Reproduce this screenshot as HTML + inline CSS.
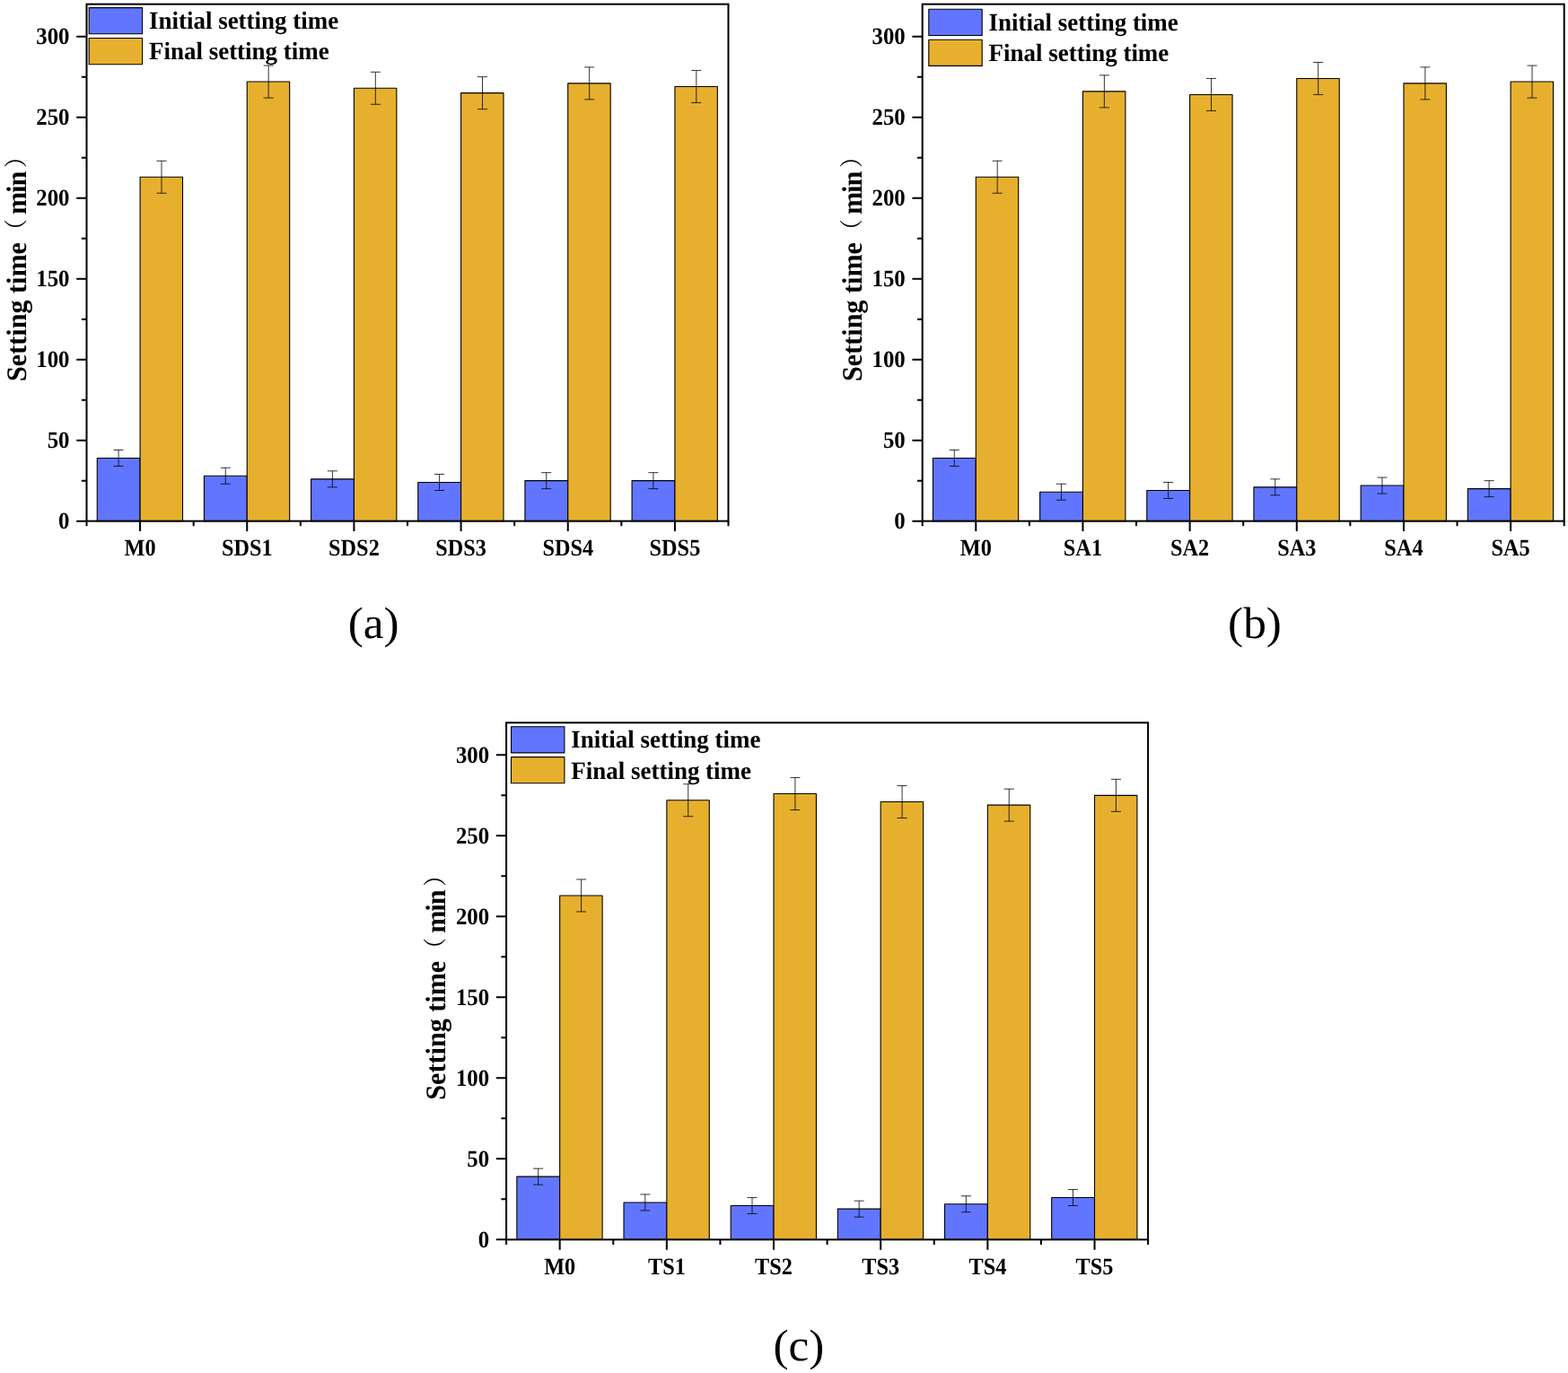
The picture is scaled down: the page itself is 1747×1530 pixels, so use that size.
<!DOCTYPE html>
<html lang="en">
<head>
<meta charset="utf-8">
<title>Setting time</title>
<style>
html,body{margin:0;padding:0;background:#fff;}
body{width:1747px;height:1530px;overflow:hidden;}
svg{display:block;}
text{text-rendering:geometricPrecision;font-family:"Liberation Serif","Noto Serif CJK SC",serif;fill:#000;}
.t{font-size:26.4px;font-weight:bold;}
.lg{font-size:27.8px;font-weight:bold;}
.yl{font-size:31.4px;font-weight:bold;}
.cj{font-family:"Noto Serif CJK SC","Liberation Serif",serif;font-weight:normal;font-size:26px;}
.cp{font-size:49.8px;}
</style>
</head>
<body>
<svg width="1747" height="1530" viewBox="0 0 1747 1530">
<rect width="1747" height="1530" fill="#fff"/>
<g>
<rect x="108.25" y="510.45" width="47.83" height="70.2" fill="#6275ff" stroke="#000" stroke-width="1.1" stroke-linejoin="round"/>
<rect x="156.08" y="197.25" width="47.43" height="383.4" fill="#e6b02e" stroke="#000" stroke-width="1.1" stroke-linejoin="round"/>
<rect x="227.42" y="530.25" width="47.83" height="50.4" fill="#6275ff" stroke="#000" stroke-width="1.1" stroke-linejoin="round"/>
<rect x="275.25" y="91.05" width="47.43" height="489.6" fill="#e6b02e" stroke="#000" stroke-width="1.1" stroke-linejoin="round"/>
<rect x="346.59" y="533.85" width="47.83" height="46.8" fill="#6275ff" stroke="#000" stroke-width="1.1" stroke-linejoin="round"/>
<rect x="394.42" y="98.25" width="47.43" height="482.4" fill="#e6b02e" stroke="#000" stroke-width="1.1" stroke-linejoin="round"/>
<rect x="465.76" y="537.45" width="47.83" height="43.2" fill="#6275ff" stroke="#000" stroke-width="1.1" stroke-linejoin="round"/>
<rect x="513.58" y="103.65" width="47.43" height="477" fill="#e6b02e" stroke="#000" stroke-width="1.1" stroke-linejoin="round"/>
<rect x="584.92" y="535.65" width="47.83" height="45" fill="#6275ff" stroke="#000" stroke-width="1.1" stroke-linejoin="round"/>
<rect x="632.75" y="92.85" width="47.43" height="487.8" fill="#e6b02e" stroke="#000" stroke-width="1.1" stroke-linejoin="round"/>
<rect x="704.09" y="535.65" width="47.83" height="45" fill="#6275ff" stroke="#000" stroke-width="1.1" stroke-linejoin="round"/>
<rect x="751.92" y="96.45" width="47.43" height="484.2" fill="#e6b02e" stroke="#000" stroke-width="1.1" stroke-linejoin="round"/>
<path d="M132.07 501.45V519.45M126.57 501.45h11M126.57 519.45h11M180 179.25V215.25M174.5 179.25h11M174.5 215.25h11M251.24 521.25V539.25M245.74 521.25h11M245.74 539.25h11M299.16 73.05V109.05M293.66 73.05h11M293.66 109.05h11M370.4 524.85V542.85M364.9 524.85h11M364.9 542.85h11M418.33 80.25V116.25M412.83 80.25h11M412.83 116.25h11M489.57 528.45V546.45M484.07 528.45h11M484.07 546.45h11M537.5 85.65V121.65M532 85.65h11M532 121.65h11M608.74 526.65V544.65M603.24 526.65h11M603.24 544.65h11M656.66 74.85V110.85M651.16 74.85h11M651.16 110.85h11M727.9 526.65V544.65M722.4 526.65h11M722.4 544.65h11M775.83 78.45V114.45M770.33 78.45h11M770.33 114.45h11" fill="none" stroke="#000" stroke-width="0.8"/>
<path d="M85.2 580.65h11.3M90.8 535.65h5.7M85.2 490.65h11.3M90.8 445.65h5.7M85.2 400.65h11.3M90.8 355.65h5.7M85.2 310.65h11.3M90.8 265.65h5.7M85.2 220.65h11.3M90.8 175.65h5.7M85.2 130.65h11.3M90.8 85.65h5.7M85.2 40.65h11.3M96.5 580.65v5.7M156.08 580.65v11.3M215.67 580.65v5.7M275.25 580.65v11.3M334.83 580.65v5.7M394.42 580.65v11.3M454 580.65v5.7M513.58 580.65v11.3M573.17 580.65v5.7M632.75 580.65v11.3M692.33 580.65v5.7M751.92 580.65v11.3M811.5 580.65v5.7" fill="none" stroke="#000" stroke-width="2"/>
<rect x="96.5" y="4.65" width="715" height="576" fill="none" stroke="#000" stroke-width="2"/>
<text class="t" text-anchor="end" transform="translate(77.5 589.05) scale(0.94 1)">0</text>
<text class="t" text-anchor="end" transform="translate(77.5 499.05) scale(0.94 1)">50</text>
<text class="t" text-anchor="end" transform="translate(77.5 409.05) scale(0.94 1)">100</text>
<text class="t" text-anchor="end" transform="translate(77.5 319.05) scale(0.94 1)">150</text>
<text class="t" text-anchor="end" transform="translate(77.5 229.05) scale(0.94 1)">200</text>
<text class="t" text-anchor="end" transform="translate(77.5 139.05) scale(0.94 1)">250</text>
<text class="t" text-anchor="end" transform="translate(77.5 49.05) scale(0.94 1)">300</text>
<text class="t" text-anchor="middle" transform="translate(156.08 619.05) scale(0.92 1)">M0</text>
<text class="t" text-anchor="middle" transform="translate(275.25 619.05) scale(0.92 1)">SDS1</text>
<text class="t" text-anchor="middle" transform="translate(394.42 619.05) scale(0.92 1)">SDS2</text>
<text class="t" text-anchor="middle" transform="translate(513.58 619.05) scale(0.92 1)">SDS3</text>
<text class="t" text-anchor="middle" transform="translate(632.75 619.05) scale(0.92 1)">SDS4</text>
<text class="t" text-anchor="middle" transform="translate(751.92 619.05) scale(0.92 1)">SDS5</text>
<text class="yl" transform="translate(28.5 424.95) rotate(-90) scale(0.96 1)">Setting time<tspan class="cj" dx="0.8" dy="-1.6">（</tspan><tspan dx="5.5" dy="1.6" letter-spacing="-1">min</tspan><tspan class="cj" dx="5" dy="-1.6">）</tspan></text>
<rect x="99.2" y="8.6" width="59.4" height="29.2" fill="#6275ff" stroke="#000" stroke-width="1.1" stroke-linejoin="round"/>
<rect x="99.2" y="42.5" width="59.4" height="29.2" fill="#e6b02e" stroke="#000" stroke-width="1.1" stroke-linejoin="round"/>
<text class="lg" transform="translate(166 32) scale(0.97 1)">Initial setting time</text>
<text class="lg" transform="translate(166 66.4) scale(0.97 1)">Final setting time</text>
<text class="cp" text-anchor="middle" transform="translate(416.1 710.6) scale(1.03 1)">(a)</text>
</g>
<g>
<rect x="1039.45" y="510.45" width="47.83" height="70.2" fill="#6275ff" stroke="#000" stroke-width="1.1" stroke-linejoin="round"/>
<rect x="1087.28" y="197.25" width="47.43" height="383.4" fill="#e6b02e" stroke="#000" stroke-width="1.1" stroke-linejoin="round"/>
<rect x="1158.62" y="548.25" width="47.83" height="32.4" fill="#6275ff" stroke="#000" stroke-width="1.1" stroke-linejoin="round"/>
<rect x="1206.45" y="101.85" width="47.43" height="478.8" fill="#e6b02e" stroke="#000" stroke-width="1.1" stroke-linejoin="round"/>
<rect x="1277.79" y="546.45" width="47.83" height="34.2" fill="#6275ff" stroke="#000" stroke-width="1.1" stroke-linejoin="round"/>
<rect x="1325.62" y="105.45" width="47.43" height="475.2" fill="#e6b02e" stroke="#000" stroke-width="1.1" stroke-linejoin="round"/>
<rect x="1396.95" y="542.85" width="47.83" height="37.8" fill="#6275ff" stroke="#000" stroke-width="1.1" stroke-linejoin="round"/>
<rect x="1444.78" y="87.45" width="47.43" height="493.2" fill="#e6b02e" stroke="#000" stroke-width="1.1" stroke-linejoin="round"/>
<rect x="1516.12" y="541.05" width="47.83" height="39.6" fill="#6275ff" stroke="#000" stroke-width="1.1" stroke-linejoin="round"/>
<rect x="1563.95" y="92.85" width="47.43" height="487.8" fill="#e6b02e" stroke="#000" stroke-width="1.1" stroke-linejoin="round"/>
<rect x="1635.29" y="544.65" width="47.83" height="36" fill="#6275ff" stroke="#000" stroke-width="1.1" stroke-linejoin="round"/>
<rect x="1683.12" y="91.05" width="47.43" height="489.6" fill="#e6b02e" stroke="#000" stroke-width="1.1" stroke-linejoin="round"/>
<path d="M1063.27 501.45V519.45M1057.77 501.45h11M1057.77 519.45h11M1111.2 179.25V215.25M1105.7 179.25h11M1105.7 215.25h11M1182.44 539.25V557.25M1176.94 539.25h11M1176.94 557.25h11M1230.36 83.85V119.85M1224.86 83.85h11M1224.86 119.85h11M1301.6 537.45V555.45M1296.1 537.45h11M1296.1 555.45h11M1349.53 87.45V123.45M1344.03 87.45h11M1344.03 123.45h11M1420.77 533.85V551.85M1415.27 533.85h11M1415.27 551.85h11M1468.7 69.45V105.45M1463.2 69.45h11M1463.2 105.45h11M1539.94 532.05V550.05M1534.44 532.05h11M1534.44 550.05h11M1587.86 74.85V110.85M1582.36 74.85h11M1582.36 110.85h11M1659.1 535.65V553.65M1653.6 535.65h11M1653.6 553.65h11M1707.03 73.05V109.05M1701.53 73.05h11M1701.53 109.05h11" fill="none" stroke="#000" stroke-width="0.8"/>
<path d="M1016.4 580.65h11.3M1022 535.65h5.7M1016.4 490.65h11.3M1022 445.65h5.7M1016.4 400.65h11.3M1022 355.65h5.7M1016.4 310.65h11.3M1022 265.65h5.7M1016.4 220.65h11.3M1022 175.65h5.7M1016.4 130.65h11.3M1022 85.65h5.7M1016.4 40.65h11.3M1027.7 580.65v5.7M1087.28 580.65v11.3M1146.87 580.65v5.7M1206.45 580.65v11.3M1266.03 580.65v5.7M1325.62 580.65v11.3M1385.2 580.65v5.7M1444.78 580.65v11.3M1504.37 580.65v5.7M1563.95 580.65v11.3M1623.53 580.65v5.7M1683.12 580.65v11.3M1742.7 580.65v5.7" fill="none" stroke="#000" stroke-width="2"/>
<rect x="1027.7" y="4.65" width="715" height="576" fill="none" stroke="#000" stroke-width="2"/>
<text class="t" text-anchor="end" transform="translate(1008.7 589.05) scale(0.94 1)">0</text>
<text class="t" text-anchor="end" transform="translate(1008.7 499.05) scale(0.94 1)">50</text>
<text class="t" text-anchor="end" transform="translate(1008.7 409.05) scale(0.94 1)">100</text>
<text class="t" text-anchor="end" transform="translate(1008.7 319.05) scale(0.94 1)">150</text>
<text class="t" text-anchor="end" transform="translate(1008.7 229.05) scale(0.94 1)">200</text>
<text class="t" text-anchor="end" transform="translate(1008.7 139.05) scale(0.94 1)">250</text>
<text class="t" text-anchor="end" transform="translate(1008.7 49.05) scale(0.94 1)">300</text>
<text class="t" text-anchor="middle" transform="translate(1087.28 619.05) scale(0.92 1)">M0</text>
<text class="t" text-anchor="middle" transform="translate(1206.45 619.05) scale(0.92 1)">SA1</text>
<text class="t" text-anchor="middle" transform="translate(1325.62 619.05) scale(0.92 1)">SA2</text>
<text class="t" text-anchor="middle" transform="translate(1444.78 619.05) scale(0.92 1)">SA3</text>
<text class="t" text-anchor="middle" transform="translate(1563.95 619.05) scale(0.92 1)">SA4</text>
<text class="t" text-anchor="middle" transform="translate(1683.12 619.05) scale(0.92 1)">SA5</text>
<text class="yl" transform="translate(959.5 424.95) rotate(-90) scale(0.96 1)">Setting time<tspan class="cj" dx="0.8" dy="-1.6">（</tspan><tspan dx="5.5" dy="1.6" letter-spacing="-1">min</tspan><tspan class="cj" dx="5" dy="-1.6">）</tspan></text>
<rect x="1034.8" y="10.3" width="59.4" height="29.2" fill="#6275ff" stroke="#000" stroke-width="1.1" stroke-linejoin="round"/>
<rect x="1034.8" y="44.2" width="59.4" height="29.2" fill="#e6b02e" stroke="#000" stroke-width="1.1" stroke-linejoin="round"/>
<text class="lg" transform="translate(1101.6 33.7) scale(0.97 1)">Initial setting time</text>
<text class="lg" transform="translate(1101.6 68.1) scale(0.97 1)">Final setting time</text>
<text class="cp" text-anchor="middle" transform="translate(1398 710.6) scale(1.03 1)">(b)</text>
</g>
<g>
<rect x="575.86" y="1311.15" width="47.83" height="70.2" fill="#6275ff" stroke="#000" stroke-width="1.1" stroke-linejoin="round"/>
<rect x="623.68" y="997.95" width="47.43" height="383.4" fill="#e6b02e" stroke="#000" stroke-width="1.1" stroke-linejoin="round"/>
<rect x="695.02" y="1339.95" width="47.83" height="41.4" fill="#6275ff" stroke="#000" stroke-width="1.1" stroke-linejoin="round"/>
<rect x="742.85" y="891.75" width="47.43" height="489.6" fill="#e6b02e" stroke="#000" stroke-width="1.1" stroke-linejoin="round"/>
<rect x="814.19" y="1343.55" width="47.83" height="37.8" fill="#6275ff" stroke="#000" stroke-width="1.1" stroke-linejoin="round"/>
<rect x="862.02" y="884.55" width="47.43" height="496.8" fill="#e6b02e" stroke="#000" stroke-width="1.1" stroke-linejoin="round"/>
<rect x="933.36" y="1347.15" width="47.83" height="34.2" fill="#6275ff" stroke="#000" stroke-width="1.1" stroke-linejoin="round"/>
<rect x="981.18" y="893.55" width="47.43" height="487.8" fill="#e6b02e" stroke="#000" stroke-width="1.1" stroke-linejoin="round"/>
<rect x="1052.52" y="1341.75" width="47.83" height="39.6" fill="#6275ff" stroke="#000" stroke-width="1.1" stroke-linejoin="round"/>
<rect x="1100.35" y="897.15" width="47.43" height="484.2" fill="#e6b02e" stroke="#000" stroke-width="1.1" stroke-linejoin="round"/>
<rect x="1171.69" y="1334.55" width="47.83" height="46.8" fill="#6275ff" stroke="#000" stroke-width="1.1" stroke-linejoin="round"/>
<rect x="1219.52" y="886.35" width="47.43" height="495" fill="#e6b02e" stroke="#000" stroke-width="1.1" stroke-linejoin="round"/>
<path d="M599.67 1302.15V1320.15M594.17 1302.15h11M594.17 1320.15h11M647.6 979.95V1015.95M642.1 979.95h11M642.1 1015.95h11M718.84 1330.95V1348.95M713.34 1330.95h11M713.34 1348.95h11M766.76 873.75V909.75M761.26 873.75h11M761.26 909.75h11M838 1334.55V1352.55M832.5 1334.55h11M832.5 1352.55h11M885.93 866.55V902.55M880.43 866.55h11M880.43 902.55h11M957.17 1338.15V1356.15M951.67 1338.15h11M951.67 1356.15h11M1005.1 875.55V911.55M999.6 875.55h11M999.6 911.55h11M1076.34 1332.75V1350.75M1070.84 1332.75h11M1070.84 1350.75h11M1124.26 879.15V915.15M1118.76 879.15h11M1118.76 915.15h11M1195.5 1325.55V1343.55M1190 1325.55h11M1190 1343.55h11M1243.43 868.35V904.35M1237.93 868.35h11M1237.93 904.35h11" fill="none" stroke="#000" stroke-width="0.8"/>
<path d="M552.8 1381.35h11.3M558.4 1336.35h5.7M552.8 1291.35h11.3M558.4 1246.35h5.7M552.8 1201.35h11.3M558.4 1156.35h5.7M552.8 1111.35h11.3M558.4 1066.35h5.7M552.8 1021.35h11.3M558.4 976.35h5.7M552.8 931.35h11.3M558.4 886.35h5.7M552.8 841.35h11.3M564.1 1381.35v5.7M623.68 1381.35v11.3M683.27 1381.35v5.7M742.85 1381.35v11.3M802.43 1381.35v5.7M862.02 1381.35v11.3M921.6 1381.35v5.7M981.18 1381.35v11.3M1040.77 1381.35v5.7M1100.35 1381.35v11.3M1159.93 1381.35v5.7M1219.52 1381.35v11.3M1279.1 1381.35v5.7" fill="none" stroke="#000" stroke-width="2"/>
<rect x="564.1" y="805.35" width="715" height="576" fill="none" stroke="#000" stroke-width="2"/>
<text class="t" text-anchor="end" transform="translate(545.1 1389.75) scale(0.94 1)">0</text>
<text class="t" text-anchor="end" transform="translate(545.1 1299.75) scale(0.94 1)">50</text>
<text class="t" text-anchor="end" transform="translate(545.1 1209.75) scale(0.94 1)">100</text>
<text class="t" text-anchor="end" transform="translate(545.1 1119.75) scale(0.94 1)">150</text>
<text class="t" text-anchor="end" transform="translate(545.1 1029.75) scale(0.94 1)">200</text>
<text class="t" text-anchor="end" transform="translate(545.1 939.75) scale(0.94 1)">250</text>
<text class="t" text-anchor="end" transform="translate(545.1 849.75) scale(0.94 1)">300</text>
<text class="t" text-anchor="middle" transform="translate(623.68 1419.75) scale(0.92 1)">M0</text>
<text class="t" text-anchor="middle" transform="translate(742.85 1419.75) scale(0.92 1)">TS1</text>
<text class="t" text-anchor="middle" transform="translate(862.02 1419.75) scale(0.92 1)">TS2</text>
<text class="t" text-anchor="middle" transform="translate(981.18 1419.75) scale(0.92 1)">TS3</text>
<text class="t" text-anchor="middle" transform="translate(1100.35 1419.75) scale(0.92 1)">TS4</text>
<text class="t" text-anchor="middle" transform="translate(1219.52 1419.75) scale(0.92 1)">TS5</text>
<text class="yl" transform="translate(495.6 1225.65) rotate(-90) scale(0.96 1)">Setting time<tspan class="cj" dx="0.8" dy="-1.6">（</tspan><tspan dx="5.5" dy="1.6" letter-spacing="-1">min</tspan><tspan class="cj" dx="5" dy="-1.6">）</tspan></text>
<rect x="569.5" y="809.7" width="59.4" height="29.2" fill="#6275ff" stroke="#000" stroke-width="1.1" stroke-linejoin="round"/>
<rect x="569.5" y="843.6" width="59.4" height="29.2" fill="#e6b02e" stroke="#000" stroke-width="1.1" stroke-linejoin="round"/>
<text class="lg" transform="translate(636.3 833.1) scale(0.97 1)">Initial setting time</text>
<text class="lg" transform="translate(636.3 867.5) scale(0.97 1)">Final setting time</text>
<text class="cp" text-anchor="middle" transform="translate(889.9 1516) scale(1.03 1)">(c)</text>
</g>
</svg>
</body>
</html>
